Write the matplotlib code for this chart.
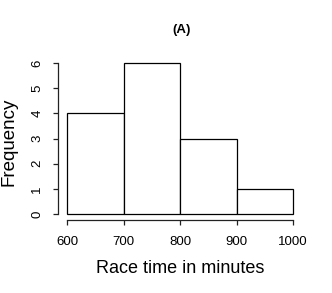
import matplotlib
matplotlib.use("Agg")
import matplotlib.pyplot as plt

# histogram of race times
bin_edges = [600, 700, 800, 900, 1000]
counts = [4, 6, 3, 1]
x_ticks = [600, 700, 800, 900, 1000]
y_ticks = [0, 1, 2, 3, 4, 5, 6]

plt.rcParams["font.family"] = ["Liberation Sans", "DejaVu Sans"]

W, H = 332, 293
fig = plt.figure(figsize=(W / 100, H / 100), dpi=100)
# axes box in pixels: x 67..293, y(top) 63..214
ax = fig.add_axes([67 / W, (H - 214) / H, (293 - 67) / W, (214 - 63) / H])

lefts = bin_edges[:-1]
widths = [b - a for a, b in zip(bin_edges[:-1], bin_edges[1:])]
ax.bar(lefts, counts, width=widths, align="edge", facecolor="white",
       edgecolor="black", linewidth=0.9, clip_on=False)

ax.set_xlim(600, 1000)
ax.set_ylim(0, 6)
for s in ("top", "right"):
    ax.spines[s].set_visible(False)
ax.spines["left"].set_position(("outward", 6.5))
ax.spines["bottom"].set_position(("outward", 4.3))
ax.spines["left"].set_bounds(0, 6)
ax.spines["bottom"].set_bounds(600, 1000)
for s in ("left", "bottom"):
    ax.spines[s].set_linewidth(0.9)
    ax.spines[s].set_color("#222222")

ax.set_xticks(x_ticks)
ax.set_yticks(y_ticks)
ax.set_yticklabels([str(v) for v in y_ticks], rotation=90, va="center")
ax.tick_params(axis="x", length=3.6, width=0.9, pad=8, labelsize=9.5, color="#222222")
ax.tick_params(axis="y", length=3.6, width=0.9, pad=7, labelsize=9.5, color="#222222")

ax.set_xlabel("Race time in minutes", fontsize=13, va="center")
ax.xaxis.set_label_coords(0.5, -0.358)
ax.set_ylabel("Frequency", fontsize=13.5, va="center")
ax.yaxis.set_label_coords(-0.255, 0.477)

fig.text(182 / W, 1 - 30 / H, "(A)", ha="center", va="center",
         fontsize=9.5, fontweight="bold")

fig.savefig("out.png", dpi=100)
